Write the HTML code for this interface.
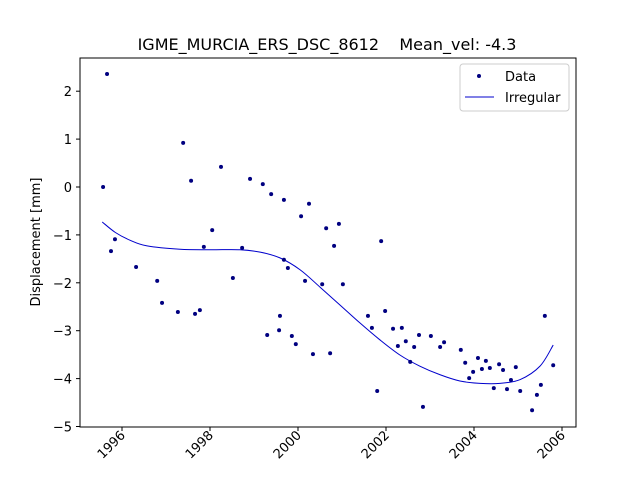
<!DOCTYPE html>
<html><head><meta charset="utf-8"><style>
body{margin:0;background:#fff;width:640px;height:480px;overflow:hidden}
text{font-family:"DejaVu Sans","Liberation Sans",sans-serif}
</style></head><body>
<svg id="chart" width="640" height="480" xmlns="http://www.w3.org/2000/svg">
<rect width="640" height="480" fill="#fff"/>
<text x="327" y="50" font-size="16" text-anchor="middle" style="white-space:pre" xml:space="preserve">IGME_MURCIA_ERS_DSC_8612    Mean_vel: -4.3</text>
<g id="plot"></g>
<rect x="80" y="58" width="496" height="369" fill="none" stroke="#000" stroke-width="1"/>
<text transform="translate(40,242) rotate(-90)" font-size="13" text-anchor="middle">Displacement [mm]</text>
<text x="328" y="490" font-size="13" text-anchor="middle">Measurement Date</text>
<g>
<rect x="460" y="64" width="109" height="47" rx="3" fill="#fff" stroke="#ccc"/>
<circle cx="479" cy="76" r="2" fill="#000080"/>
<text x="505" y="81" font-size="13">Data</text>
<line x1="465" y1="97" x2="494" y2="97" stroke="#0000cc" stroke-width="1"/>
<text x="505" y="102" font-size="13">Irregular</text>
</g>
</svg>
<script>
const dataYears=[1995.57,1995.66,1995.75,1995.84,1996.32,1996.80,1996.91,1997.27,1997.39,1997.57,1997.66,1997.77,1997.86,1998.05,1998.25,1998.52,1998.73,1998.91,1999.20,1999.39,1999.30,1999.57,1999.59,1999.68,1999.68,1999.77,1999.86,1999.95,2000.07,2000.16,2000.25,2000.34,2000.55,2000.64,2000.73,2000.82,2000.93,2001.02,2001.59,2001.68,2001.80,2001.89,2001.98,2002.16,2002.27,2002.36,2002.45,2002.55,2002.64,2002.75,2002.84,2003.02,2003.23,2003.32,2003.70,2003.80,2003.89,2003.98,2004.09,2004.18,2004.27,2004.36,2004.45,2004.57,2004.66,2004.75,2004.84,2004.95,2005.05,2005.32,2005.43,2005.52,2005.61,2005.80];
const dataValues=[0.0,2.36,-1.34,-1.09,-1.67,-1.96,-2.42,-2.61,0.92,0.13,-2.65,-2.57,-1.25,-0.90,0.42,-1.90,-1.27,0.17,0.06,-0.15,-3.09,-2.99,-2.69,-0.27,-1.52,-1.69,-3.11,-3.28,-0.61,-1.96,-0.35,-3.49,-2.03,-0.86,-3.47,-1.23,-0.77,-2.03,-2.69,-2.94,-4.26,-1.13,-2.59,-2.96,-3.32,-2.94,-3.22,-3.65,-3.34,-3.09,-4.59,-3.11,-3.34,-3.24,-3.40,-3.67,-3.99,-3.86,-3.57,-3.80,-3.63,-3.78,-4.20,-3.70,-3.82,-4.22,-4.03,-3.76,-4.26,-4.66,-4.34,-4.13,-2.69,-3.72];
const curveYears=[1995.55,1995.85,1996.18,1996.57,1997.32,1998.0,1998.68,1999.14,1999.59,2000.05,2000.5,2000.95,2001.41,2001.86,2002.32,2002.77,2003.23,2003.68,2004.14,2004.59,2005.05,2005.5,2005.80];
const curveValues=[-0.73,-0.95,-1.11,-1.23,-1.30,-1.31,-1.31,-1.36,-1.48,-1.73,-2.09,-2.46,-2.84,-3.19,-3.51,-3.74,-3.92,-4.05,-4.10,-4.10,-4.02,-3.74,-3.30];
const xTicks=[1996,1998,2000,2002,2004,2006];
const yTicks=[2,1,0,-1,-2,-3,-4,-5];
const NS="http://www.w3.org/2000/svg";
function xs(v){return 122+(v-1996)*44;}
function ys(v){return 187-v*47.9;}
const g=document.getElementById('plot');
function mk(t,a){const e=document.createElementNS(NS,t);for(const k in a)e.setAttribute(k,a[k]);g.appendChild(e);return e;}
xTicks.forEach(t=>{
  const x=xs(t);
  const l=mk('line',{x1:x,y1:427,x2:x,y2:431,stroke:'#000'});
  
  
  const tx=mk('text',{transform:`translate(${x+4},${436}) rotate(-45)`,'font-size':'13','text-anchor':'end'});
  tx.textContent=t;
  
  
});
yTicks.forEach(t=>{
  const y=ys(t);
  const l=mk('line',{x1:76,y1:y,x2:80,y2:y,stroke:'#000'});
  
  
  const tx=mk('text',{x:72,y:y+5,'font-size':'13','text-anchor':'end'});
  tx.textContent=t<0?'\u2212'+(-t):t;
  
  
});
const pts=curveYears.map((v,i)=>[xs(v),ys(curveValues[i])]);
let d='M'+pts[0][0]+','+pts[0][1];
for(let i=0;i<pts.length-1;i++){
  const p0=pts[Math.max(0,i-1)],p1=pts[i],p2=pts[i+1],p3=pts[Math.min(pts.length-1,i+2)];
  const c1=[p1[0]+(p2[0]-p0[0])/6,p1[1]+(p2[1]-p0[1])/6];
  const c2=[p2[0]-(p3[0]-p1[0])/6,p2[1]-(p3[1]-p1[1])/6];
  d+=` C${c1[0]},${c1[1]} ${c2[0]},${c2[1]} ${p2[0]},${p2[1]}`;
}
const p=mk('path',{d:d,fill:'none',stroke:'#0000cc','stroke-width':'1'});


dataYears.forEach((v,i)=>{
  const c=mk('circle',{cx:xs(v),cy:ys(dataValues[i]),r:2,fill:'#000080'});
  
  
});
</script>
</body></html>
